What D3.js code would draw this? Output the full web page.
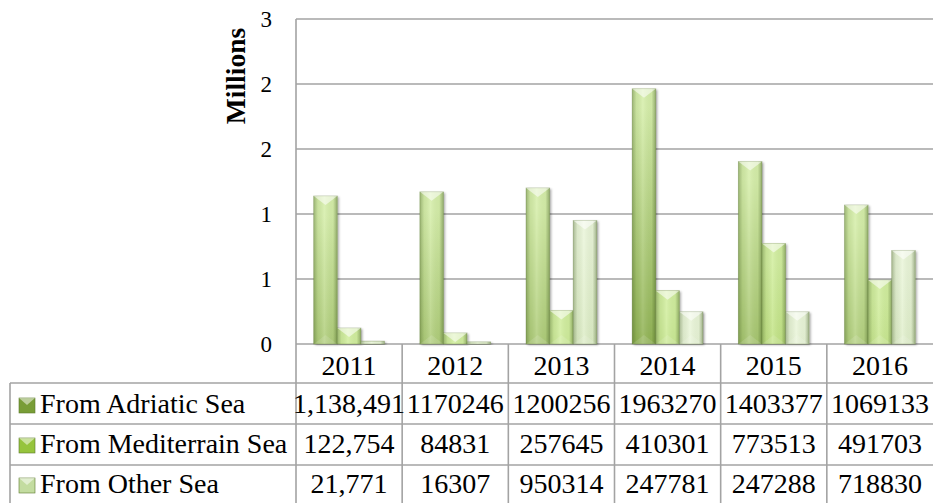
<!DOCTYPE html>
<html>
<head>
<meta charset="utf-8">
<script src="https://cdn.jsdelivr.net/npm/d3@7"></script>
<style>
  body { margin: 0; background: #fff; }
  svg { display: block; }
  svg text { font-family: "Liberation Serif", "DejaVu Serif", serif; fill: #000; }
</style>
</head>
<body>
<script>
// categories and series
const years = ["2011", "2012", "2013", "2014", "2015", "2016"];
const seriesNames = ["From Adriatic Sea", "From Mediterrain Sea", "From Other Sea"];
const adriatic = [1138491, 1170246, 1200256, 1963270, 1403377, 1069133];
const mediterrain = [122754, 84831, 257645, 410301, 773513, 491703];
const otherSea = [21771, 16307, 950314, 247781, 247288, 718830];
// text as printed in the data table
const adriaticLabels = ["1,138,491", "1170246", "1200256", "1963270", "1403377", "1069133"];
const mediterrainLabels = ["122,754", "84831", "257645", "410301", "773513", "491703"];
const otherLabels = ["21,771", "16307", "950314", "247781", "247288", "718830"];
const yTicks = [0, 500000, 1000000, 1500000, 2000000, 2500000];
const yTickLabels = ["0", "1", "1", "2", "2", "3"];

const seriesValues = [adriatic, mediterrain, otherSea];
const seriesLabels = [adriaticLabels, mediterrainLabels, otherLabels];

// colours: [top of plot, bottom of plot]
const seriesColors = [["#d6eeab", "#789d36"], ["#d2eea0", "#96c43c"], ["#eaf5da", "#c3dca0"]];

const W = 933, H = 503;
const plotLeft = 296, plotRight = 933, plotTop = 19, zero = 344;
const rowLines = [383, 424, 465];
const tableLeft = 10;
const lineColor = "#a3a3a3";

const svg = d3.select("body").append("svg")
  .attr("width", W).attr("height", H);

const defs = svg.append("defs");
seriesColors.forEach(function(c, i) {
  const g = defs.append("linearGradient")
    .attr("id", "fill" + i)
    .attr("gradientUnits", "userSpaceOnUse")
    .attr("x1", 0).attr("y1", plotTop).attr("x2", 0).attr("y2", zero);
  g.append("stop").attr("offset", "0%").attr("stop-color", c[0]);
  g.append("stop").attr("offset", "100%").attr("stop-color", c[1]);
});
// side shading of each bar
const side = defs.append("linearGradient").attr("id", "side")
  .attr("x1", 0).attr("y1", 0).attr("x2", 1).attr("y2", 0);
side.append("stop").attr("offset", "0%").attr("stop-color", "#2f4a10").attr("stop-opacity", 0.35);
side.append("stop").attr("offset", "18%").attr("stop-color", "#2f4a10").attr("stop-opacity", 0.08);
side.append("stop").attr("offset", "45%").attr("stop-color", "#ffffff").attr("stop-opacity", 0.12);
side.append("stop").attr("offset", "82%").attr("stop-color", "#2f4a10").attr("stop-opacity", 0.05);
side.append("stop").attr("offset", "100%").attr("stop-color", "#2f4a10").attr("stop-opacity", 0.4);

const shadow = defs.append("filter").attr("id", "shadow")
  .attr("x", "-30%").attr("y", "-10%").attr("width", "160%").attr("height", "120%");
shadow.append("feDropShadow").attr("dx", 1.5).attr("dy", 1).attr("stdDeviation", 1.2)
  .attr("flood-color", "#000").attr("flood-opacity", 0.35);

// scales
const x = d3.scaleBand().domain(years).range([plotLeft, plotRight])
  .paddingInner(1.5 / 4.5).paddingOuter(0.75 / 4.5);
const xs = d3.scaleBand().domain(d3.range(3)).range([0, x.bandwidth()]);
const y = d3.scaleLinear().domain([0, 2500000]).range([zero, plotTop]);

// gridlines
svg.append("g").selectAll("line").data(yTicks).join("line")
  .attr("x1", plotLeft).attr("x2", plotRight)
  .attr("y1", d => y(d)).attr("y2", d => y(d))
  .attr("stroke", lineColor).attr("stroke-width", 1.6);

// y axis tick labels
const yAxis = d3.axisLeft(y).tickValues(yTicks)
  .tickFormat((d, i) => yTickLabels[i]).tickSize(0).tickPadding(24);
const ya = svg.append("g").attr("transform", "translate(" + plotLeft + ",0)").call(yAxis);
ya.select(".domain").remove();
ya.attr("font-family", null);
ya.selectAll("text").attr("font-size", 23);

svg.append("text")
  .attr("transform", "translate(245,76) rotate(-90)")
  .attr("text-anchor", "middle")
  .attr("font-weight", "bold").attr("font-size", 27.5)
  .text("Millions");

// bars
const bars = [];
seriesValues.forEach(function(vals, s) {
  vals.forEach(function(v, i) {
    bars.push({ s: s, year: years[i], value: v });
  });
});

const bg = svg.append("g").selectAll("g").data(bars).join("g")
  .attr("transform", d => "translate(" + (x(d.year) + xs(d.s)) + "," + y(d.value) + ")");
const bw = xs.bandwidth();

bg.append("rect")
  .attr("width", bw)
  .attr("height", d => zero - y(d.value))
  .attr("fill", d => "url(#fill" + d.s + ")")
  .attr("filter", "url(#shadow)");
bg.append("rect")
  .attr("width", bw)
  .attr("height", d => zero - y(d.value))
  .attr("fill", "url(#side)")
  .attr("stroke", "#4d6b22").attr("stroke-opacity", 0.35).attr("stroke-width", 0.8);
// top bevel
bg.filter(d => zero - y(d.value) > 3).append("path")
  .attr("d", function(d) {
    const h = Math.min(9, zero - y(d.value));
    return "M0,0L" + bw + ",0L" + (bw / 2) + "," + h + "Z";
  })
  .attr("fill", "#ffffff").attr("fill-opacity", 0.55);
bg.filter(d => zero - y(d.value) > 20).append("path")
  .attr("d", function(d) {
    const h = zero - y(d.value);
    return "M0," + h + "L" + bw + "," + h + "L" + (bw / 2) + "," + (h - 9) + "Z";
  })
  .attr("fill", "#ffffff").attr("fill-opacity", 0.12);

// axis lines
svg.append("line").attr("x1", plotLeft).attr("x2", plotLeft).attr("y1", plotTop).attr("y2", H)
  .attr("stroke", lineColor).attr("stroke-width", 1.6);

// data table grid
const tg = svg.append("g");
tg.selectAll("line.v").data(years.slice(1)).join("line")
  .attr("x1", d => x(d) - x.step() * x.paddingInner() / 2)
  .attr("x2", d => x(d) - x.step() * x.paddingInner() / 2)
  .attr("y1", zero).attr("y2", H)
  .attr("stroke", lineColor).attr("stroke-width", 1.6);
tg.selectAll("line.h").data(rowLines).join("line")
  .attr("x1", tableLeft).attr("x2", plotRight)
  .attr("y1", d => d).attr("y2", d => d)
  .attr("stroke", lineColor).attr("stroke-width", 1.6);
tg.append("line").attr("x1", tableLeft).attr("x2", tableLeft)
  .attr("y1", rowLines[0]).attr("y2", H)
  .attr("stroke", lineColor).attr("stroke-width", 1.6);

const fs = 28;
// header row
tg.selectAll("text.year").data(years).join("text")
  .attr("x", d => x(d) + x.bandwidth() / 2)
  .attr("y", 375)
  .attr("text-anchor", "middle")
  .attr("font-size", fs)
  .text(d => d);

const rowBase = [413, 453, 493];
seriesNames.forEach(function(name, s) {
  const row = tg.append("g");
  row.append("rect")
    .attr("x", 19).attr("y", rowBase[s] - 15).attr("width", 16).attr("height", 15)
    .attr("fill", seriesColors[s][1]).attr("stroke", "#5c7a2c").attr("stroke-width", 0.6);
  row.append("path")
    .attr("d", "M19," + (rowBase[s] - 15) + "L35," + (rowBase[s] - 15) + "L27," + (rowBase[s] - 8) + "Z")
    .attr("fill", "#fff").attr("fill-opacity", 0.5);
  row.append("text")
    .attr("x", 40).attr("y", rowBase[s])
    .attr("font-size", fs)
    .text(name);
  row.selectAll("text.val").data(seriesLabels[s]).join("text")
    .attr("x", (d, i) => x(years[i]) + x.bandwidth() / 2)
    .attr("y", rowBase[s])
    .attr("text-anchor", "middle")
    .attr("font-size", fs)
    .text(d => d);
});
</script>
</body>
</html>
